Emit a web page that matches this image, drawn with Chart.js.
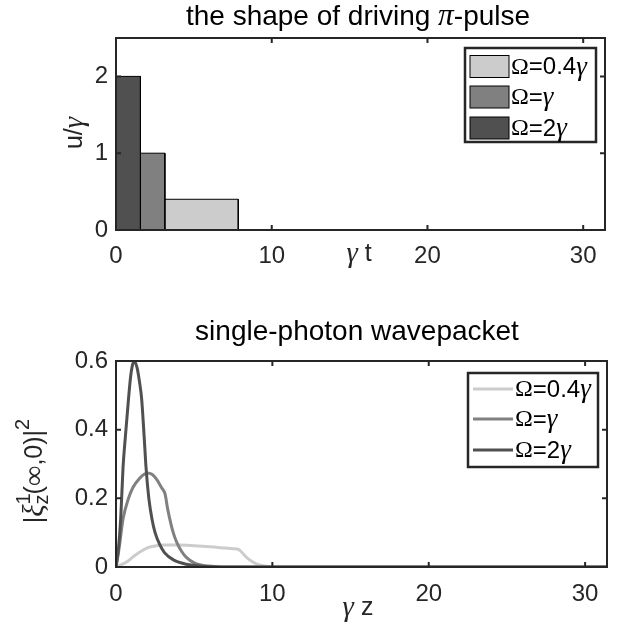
<!DOCTYPE html>
<html><head><meta charset="utf-8">
<script src="https://cdn.jsdelivr.net/npm/chart.js@4/dist/chart.umd.min.js"></script>
<style>
html,body{margin:0;padding:0;background:#fff;width:618px;height:630px;overflow:hidden;}
canvas{position:absolute;left:0;}
#c1{top:0;} #c2{top:290px;}
</style></head><body>
<canvas id="c1" width="618" height="290"></canvas>
<canvas id="c2" width="618" height="340"></canvas>
<script>
// ---------- data ----------
const seriesLabels = ['Ω=0.4γ', 'Ω=γ', 'Ω=2γ'];
const seriesColors = ['#cccccc', '#808080', '#505050'];
const xTicks = [0, 10, 20, 30];
const topYTicks = [0, 1, 2];
const bottomYTicks = [0, 0.2, 0.4, 0.6];
// pulse amplitude u/γ and pulse end time γt
const pulseHeights = [0.4, 1, 2];
const pulseEnds = [7.85, 3.14, 1.57];
// wavepackets |ξ|^2 vs γz
const z04 = [0, 0.3, 0.7, 1.1, 1.5, 2.0, 2.5, 3.0, 3.5, 4.0, 5.0, 6.0, 7.0, 7.5, 7.85, 8.1, 8.4, 8.7, 9.0, 9.5, 10, 12, 31.4];
const w04 = [0, 0.006, 0.015, 0.03, 0.043, 0.056, 0.061, 0.064, 0.064, 0.064, 0.062, 0.059, 0.055, 0.053, 0.051, 0.04, 0.026, 0.016, 0.008, 0.003, 0.001, 0, 0];
const z1 = [0, 0.2, 0.45, 0.8, 1.1, 1.5, 1.8, 2.0, 2.3, 2.6, 2.9, 3.14, 3.3, 3.5, 3.66, 3.9, 4.2, 4.5, 5.0, 5.5, 6.5, 8, 31.4];
const w1 = [0, 0.055, 0.14, 0.2, 0.233, 0.258, 0.27, 0.274, 0.27, 0.255, 0.232, 0.212, 0.17, 0.128, 0.1, 0.07, 0.045, 0.028, 0.012, 0.005, 0.001, 0, 0];
const z2 = [0, 0.15, 0.3, 0.45, 0.6, 0.8, 0.95, 1.1, 1.2, 1.35, 1.5, 1.64, 1.8, 1.92, 2.1, 2.3, 2.5, 2.8, 3.1, 3.7, 4.5, 5.5, 7, 31.4];
const w2 = [0, 0.05, 0.14, 0.29, 0.38, 0.49, 0.56, 0.595, 0.598, 0.58, 0.54, 0.49, 0.38, 0.29, 0.2, 0.14, 0.1, 0.065, 0.042, 0.02, 0.008, 0.002, 0, 0];

// ---------- helpers ----------
const SANS = "'Liberation Sans', Arial, Helvetica, sans-serif";
const SERIF = "'Liberation Serif', 'Times New Roman', serif";
const INK = '#262626';
const TICK_SIZE = 24, TITLE_SIZE = 28, LABEL_SIZE = 25, LEGEND_SIZE = 24;
function fontFor(seg, size) {
  const s = size * (seg.s || 1);
  if (seg.f === 'i') return `italic ${s}px ${SERIF}`;
  if (seg.f === 'r') return `${s}px ${SERIF}`;
  return `${s}px ${SANS}`;
}
function autoSegs(text) {
  const segs = [];
  for (const ch of text) {
    let f = 'n', s = 1;
    if ('γπξ'.includes(ch)) { f = 'i'; s = 1.12; } else if ('Ω∞'.includes(ch)) f = 'r';
    const last = segs[segs.length - 1];
    if (last && last.f === f && last.s === s) last.t += ch; else segs.push({t: ch, f, s});
  }
  return segs;
}
function drawSegs(ctx, segs, x, y, size, align, color) {
  ctx.save();
  ctx.fillStyle = color || '#000';
  ctx.textBaseline = 'middle';
  ctx.textAlign = 'left';
  let w = 0;
  for (const s of segs) { ctx.font = fontFor(s, size); s.w = ctx.measureText(s.t).width; if (s.adv !== false) w += s.w; }
  let cx = align === 'center' ? x - w / 2 : align === 'right' ? x - w : x;
  for (const s of segs) {
    ctx.font = fontFor(s, size);
    ctx.fillText(s.t, cx, y + (s.dy || 0) * size);
    if (s.adv !== false) cx += s.w;
  }
  ctx.restore();
}
function toPts(xs, ys) { return xs.map((v, i) => ({x: v, y: ys[i]})); }

const decor = {
  id: 'decor',
  afterDraw(chart, args, o) {
    const ctx = chart.ctx, a = chart.chartArea, xs = chart.scales.x, ys = chart.scales.y;
    ctx.save();
    ctx.strokeStyle = INK; ctx.lineWidth = 2;
    ctx.strokeRect(a.left, a.top, a.right - a.left, a.bottom - a.top);
    ctx.beginPath();
    for (const v of xTicks) {
      const p = xs.getPixelForValue(v);
      ctx.moveTo(p, a.bottom); ctx.lineTo(p, a.bottom - 5);
      ctx.moveTo(p, a.top); ctx.lineTo(p, a.top + 5);
    }
    for (const v of o.yTicks) {
      const p = ys.getPixelForValue(v);
      ctx.moveTo(a.left, p); ctx.lineTo(a.left + 5, p);
      ctx.moveTo(a.right, p); ctx.lineTo(a.right - 5, p);
    }
    ctx.stroke();
    // legend
    const L = o.legend;
    ctx.fillStyle = '#fff';
    ctx.fillRect(L.x, L.y, L.w, L.h);
    ctx.lineWidth = 2.5; ctx.strokeStyle = INK;
    ctx.strokeRect(L.x, L.y, L.w, L.h);
    seriesLabels.forEach((lab, i) => {
      const cy = L.rows[i];
      if (L.kind === 'box') {
        ctx.fillStyle = seriesColors[i];
        ctx.fillRect(L.sx, cy - 11, L.sw, 22);
        ctx.lineWidth = 1; ctx.strokeStyle = '#000';
        ctx.strokeRect(L.sx, cy - 11, L.sw, 22);
      } else {
        ctx.strokeStyle = seriesColors[i]; ctx.lineWidth = 3;
        ctx.beginPath(); ctx.moveTo(L.sx, cy); ctx.lineTo(L.sx + L.sw, cy); ctx.stroke();
      }
      drawSegs(ctx, autoSegs(lab), L.tx, cy + 1, LEGEND_SIZE, 'left', '#000');
    });
    // titles
    drawSegs(ctx, autoSegs(o.title), o.titleX, o.titleY, TITLE_SIZE, 'center', '#000');
    drawSegs(ctx, o.xTitleSegs, o.xTitleX, o.xTitleY, LABEL_SIZE, 'center', INK);
    ctx.save();
    ctx.translate(o.yTitleX, o.yTitleY); ctx.rotate(-Math.PI / 2);
    drawSegs(ctx, o.yTitleSegs, 0, 0, LABEL_SIZE, 'center', INK);
    ctx.restore();
    ctx.restore();
  }
};

function makeScales(yMin, yMax, yTicks, xH, xPad) {
  return {
    x: {
      type: 'linear', min: 0, max: 31.4,
      afterBuildTicks: s => { s.ticks = xTicks.map(v => ({value: v})); },
      afterFit: s => { s.height = xH; },
      grid: {display: false, drawTicks: false}, border: {display: false},
      ticks: {font: {family: SANS, size: TICK_SIZE, lineHeight: 1.2}, color: INK, padding: xPad, maxRotation: 0, autoSkip: false}
    },
    y: {
      type: 'linear', min: yMin, max: yMax,
      afterBuildTicks: s => { s.ticks = yTicks.map(v => ({value: v})); },
      afterFit: s => { s.width = 116; },
      grid: {display: false, drawTicks: false}, border: {display: false},
      ticks: {font: {family: SANS, size: TICK_SIZE}, color: INK, padding: 8, autoSkip: false}
    }
  };
}

// ---------- top chart: pulse shapes ----------
const pulseSets = pulseHeights.map((h, i) => ({
  label: seriesLabels[i],
  data: [{x: 0, y: 0}, {x: 0, y: h}, {x: pulseEnds[i], y: h}, {x: pulseEnds[i], y: 0}],
  showLine: true, fill: 'origin', backgroundColor: seriesColors[i],
  borderColor: '#000', borderWidth: 1, pointRadius: 0, tension: 0,
  order: 2 - i
}));
new Chart(document.getElementById('c1'), {
  type: 'scatter',
  data: {datasets: pulseSets},
  options: {
    responsive: false, animation: false, events: [],
    layout: {padding: {top: 38, right: 13, left: 0, bottom: 0}},
    scales: makeScales(0, 2.5, topYTicks, 60, 12),
    plugins: {
      legend: {display: false}, tooltip: {enabled: false},
      decor: {
        yTicks: topYTicks,
        legend: {kind: 'box', x: 465, y: 48, w: 131, h: 94, rows: [66.5, 97, 128], sx: 470, sw: 39, tx: 511},
        title: 'the shape of driving π-pulse', titleX: 358, titleY: 17,
        xTitleSegs: [{t: 'γ', f: 'i', s: 1.15}, {t: ' t', f: 'n'}], xTitleX: 359, xTitleY: 254,
        yTitleX: 75, yTitleY: 133,
        yTitleSegs: [{t: 'u/', f: 'n'}, {t: 'γ', f: 'i', s: 1.15}]
      }
    }
  },
  plugins: [decor]
});

// ---------- bottom chart: wavepackets ----------
const waveX = [z04, z1, z2], waveY = [w04, w1, w2];
const waveSets = waveX.map((xs, i) => ({
  label: seriesLabels[i],
  data: toPts(xs, waveY[i]),
  showLine: true, fill: false, borderColor: seriesColors[i], borderWidth: 3,
  pointRadius: 0, cubicInterpolationMode: 'monotone',
  order: 2 - i
}));
new Chart(document.getElementById('c2'), {
  type: 'scatter',
  data: {datasets: waveSets},
  options: {
    responsive: false, animation: false, events: [],
    layout: {padding: {top: 71, right: 11, left: 0, bottom: 0}},
    scales: makeScales(0, 0.6, bottomYTicks, 63, 13),
    plugins: {
      legend: {display: false}, tooltip: {enabled: false},
      decor: {
        yTicks: bottomYTicks,
        legend: {kind: 'line', x: 468, y: 83, w: 130, h: 94, rows: [99, 129, 160], sx: 473, sw: 40, tx: 515},
        title: 'single-photon wavepacket', titleX: 357, titleY: 42,
        xTitleSegs: [{t: 'γ', f: 'i', s: 1.15}, {t: ' z', f: 'n'}], xTitleX: 358, xTitleY: 318,
        yTitleX: 35, yTitleY: 181,
        yTitleSegs: [
          {t: '|', f: 'n'}, {t: 'ξ', f: 'i', s: 1.15},
          {t: '1', f: 'n', s: 0.8, dy: -0.42, adv: false},
          {t: 'z', f: 'n', s: 0.8, dy: 0.3},
          {t: '(', f: 'n'}, {t: '∞', f: 'r', s: 1.15}, {t: ',0)|', f: 'n'},
          {t: '2', f: 'n', s: 0.8, dy: -0.45}
        ]
      }
    }
  },
  plugins: [decor]
});
</script>
</body></html>
